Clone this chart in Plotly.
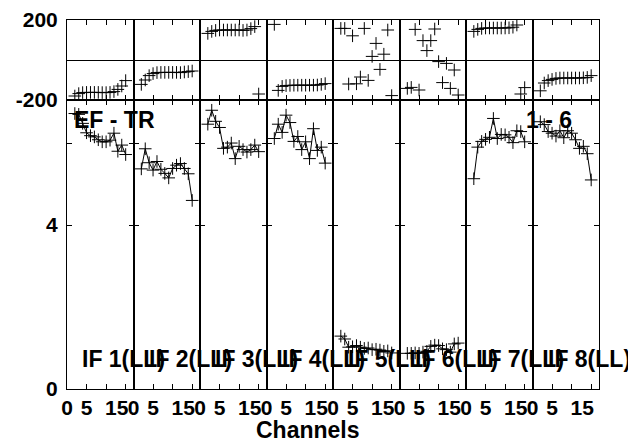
import plotly.graph_objects as go
from plotly.subplots import make_subplots

# ---------------- data ----------------
channels = [2, 3, 4, 5, 6, 7, 8, 9, 10, 11, 12, 13, 14, 15]
if_labels = ["IF 1(LL)", "IF 2(LL)", "IF 3(LL)", "IF 4(LL)",
             "IF 5(LL)", "IF 6(LL)", "IF 7(LL)", "IF 8(LL)"]

phase_if1 = [-180, -168, -163, -162, -162, -162, -162, -163, -163, -162, -158, -147, -130, -103]
phase_if2 = [-122, -100, -78, -68, -63, -62, -62, -62, -62, -62, -63, -60, -58, -55]
phase_if3 = [133, 143, 148, 150, 150, 150, 150, 150, 150, 148, 150, 157, 167, -170]
phase_if4 = [178, -152, -132, -128, -127, -126, -126, -126, -126, -126, -126, -125, -122, -118]
phase_if5 = [158, 158, -120, 121, -119, -85, 158, -102, 18, 83, -47, 29, 150, -178]
phase_if6 = [-142, -137, 153, -150, 97, 47, 97, 155, -8, -113, -17, -142, -50, -175]
phase_if7 = [143, 153, 158, 160, 160, 160, 160, 160, 160, 161, 164, 175, -170, -138]
phase_if8 = [-154, -115, -103, -97, -92, -90, -90, -90, -90, -90, -90, -89, -87, -78]

amp_if1 = [6.72, 6.70, 6.48, 6.25, 6.18, 6.15, 6.08, 6.03, 6.03, 6.07, 6.24, 5.80, 5.95, 5.72]
amp_if2 = [5.37, 5.86, 5.52, 5.34, 5.55, 5.36, 5.26, 5.15, 5.38, 5.46, 5.50, 5.38, 5.25, 4.60]
amp_if3 = [6.46, 6.80, 6.53, 6.38, 5.87, 5.90, 6.00, 5.62, 5.92, 5.84, 5.78, 5.84, 5.95, 5.79]
amp_if4 = [6.11, 6.46, 6.26, 6.68, 6.50, 6.04, 6.16, 5.84, 6.03, 5.62, 6.35, 5.82, 5.90, 5.51]
amp_if5 = [1.29, 1.22, 1.02, 1.03, 1.06, 1.02, 0.99, 1.00, 0.96, 0.97, 0.95, 0.92, 0.93, 0.88]
amp_if6 = [0.87, 0.87, 0.88, 0.87, 0.90, 0.92, 1.04, 1.07, 1.06, 0.98, 0.96, 0.90, 1.10, 1.12]
amp_if7 = [5.13, 5.90, 6.04, 6.09, 6.14, 6.60, 6.11, 6.21, 6.20, 6.14, 6.01, 6.30, 6.28, 6.03]
amp_if8 = [6.52, 6.45, 6.28, 6.24, 6.17, 6.30, 6.13, 6.30, 6.24, 6.08, 5.87, 5.92, 5.74, 5.10]

phase_ticks = [-200, 200]
amp_ticks = [0, 4, 6]
amp_ticktext = ["0", "4", ""]
chan_label_pos = [0, 5, 12.7]
chan_label_text = ["0", "5", "15"]
chan_ticks = [5, 10, 15]

phases = [phase_if1, phase_if2, phase_if3, phase_if4, phase_if5, phase_if6, phase_if7, phase_if8]
amps = [amp_if1, amp_if2, amp_if3, amp_if4, amp_if5, amp_if6, amp_if7, amp_if8]

# ---------------- figure ----------------
OFF = 8  # page body margin
W, H = 628, 434
L, R, T, B = 59, 37, 12, 53
PW, PH = W - L - R, H - T - B
FONT = "Liberation Sans, Arial, Helvetica, sans-serif"

fig = make_subplots(rows=2, cols=8, horizontal_spacing=0, vertical_spacing=0,
                    row_heights=[80 / 369, 289 / 369])

mk = dict(symbol="cross-thin", size=9, color="black", line=dict(width=1, color="black"))
for i in range(8):
    fig.add_trace(go.Scatter(x=channels, y=phases[i], mode="markers", marker=mk,
                             hoverinfo="skip"), row=1, col=i + 1)
    fig.add_trace(go.Scatter(x=channels, y=amps[i], mode="lines+markers", marker=mk,
                             line=dict(color="black", width=1), hoverinfo="skip"),
                  row=2, col=i + 1)

tickfont = dict(family=FONT, size=21, color="black", weight="bold")
for r in (1, 2):
    for c in range(1, 9):
        fig.update_xaxes(range=[0, 17], showline=True, linecolor="black", linewidth=1,
                         mirror="ticks", showgrid=False, zeroline=False, automargin=False,
                         tickmode="array", tickvals=chan_label_pos, ticktext=chan_label_text,
                         ticks="", showticklabels=(r == 2), tickfont=tickfont,
                         minor=dict(tickmode="array", tickvals=chan_ticks, ticks="inside",
                                    ticklen=5, tickcolor="black", tickwidth=1, showgrid=False),
                         row=r, col=c)
        if r == 1:
            fig.update_yaxes(range=[-200, 200], showline=True, linecolor="black", linewidth=1,
                             mirror=True, showgrid=False, zeroline=True, zerolinecolor="black",
                             zerolinewidth=1, tickmode="array", tickvals=phase_ticks,
                             ticktext=[str(v) for v in phase_ticks], ticks="", automargin=False,
                             ticklabelstandoff=4,
                             showticklabels=(c == 1), tickfont=tickfont, row=r, col=c)
        else:
            fig.update_yaxes(range=[0, 7.05], showline=True, linecolor="black", linewidth=1,
                             mirror="ticks", showgrid=False, zeroline=False, automargin=False,
                             tickmode="array", tickvals=amp_ticks, ticktext=amp_ticktext,
                             ticks="inside", ticklen=5, tickcolor="black", ticklabelstandoff=4,
                             showticklabels=(c == 1), tickfont=tickfont, row=r, col=c)


def px_x(x):
    return (x - OFF - L) / PW


def px_y(y):
    return (H - B - (y - OFF)) / PH


annfont = dict(family=FONT, size=23, color="black", weight="bold")
anns = [
    dict(text="EF - TR", x=px_x(72), y=px_y(120), xanchor="left", yanchor="middle"),
    dict(text="1 - 6", x=px_x(549), y=px_y(120), xanchor="center", yanchor="middle"),
    dict(text="Channels", x=px_x(308), y=px_y(430), xanchor="center", yanchor="middle"),
]
for i, lab in enumerate(if_labels):
    anns.append(dict(text=lab, x=px_x(OFF + L + PW / 8 * i + 13), y=px_y(359),
                     xanchor="left", yanchor="middle"))
for a in anns:
    fig.add_annotation(xref="paper", yref="paper", showarrow=False, font=annfont, **a)

fig.update_layout(width=W, height=H, margin=dict(l=L, r=R, t=T, b=B),
                  showlegend=False, plot_bgcolor="white", paper_bgcolor="white")

fig.write_html("out.html")
